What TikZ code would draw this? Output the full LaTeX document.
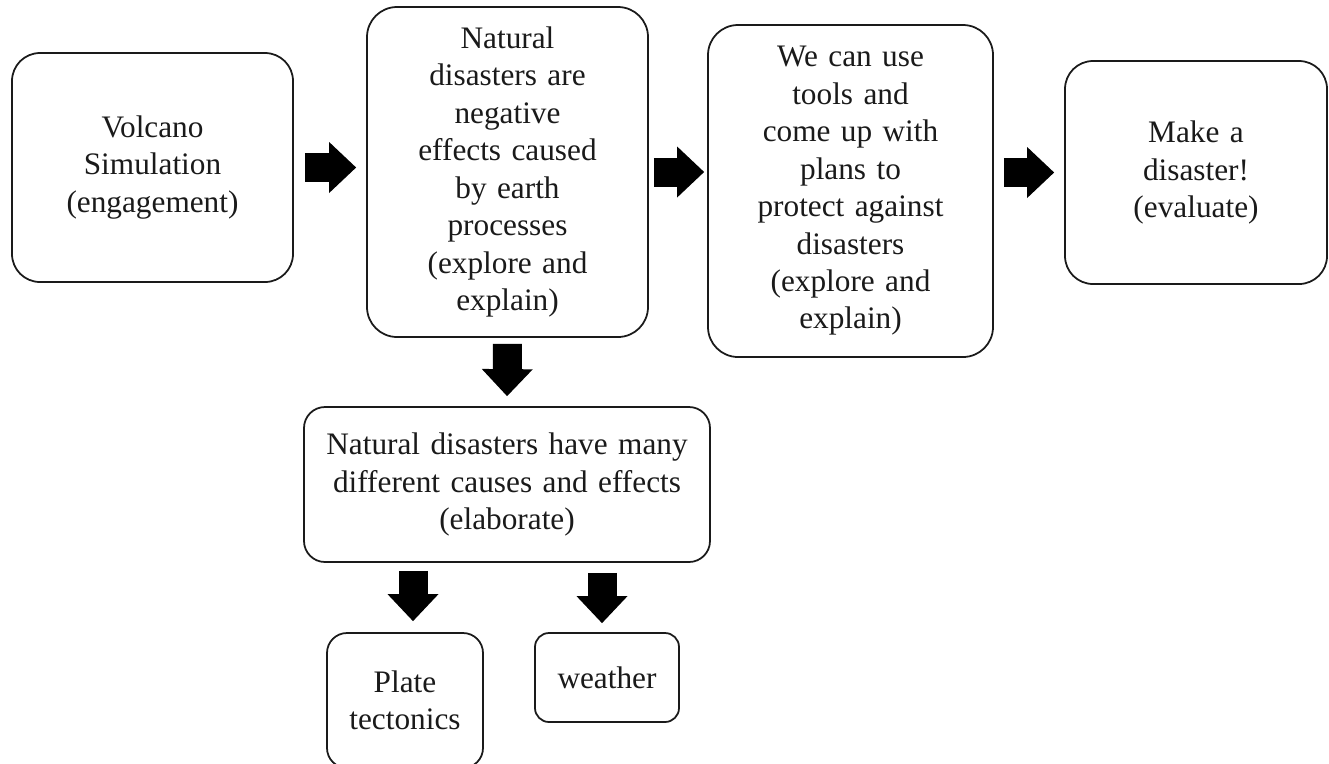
\documentclass[tikz,border=0pt]{standalone}
\usepackage{fontspec}
\setmainfont{Liberation Serif}
\usepackage{tikz}
\usetikzlibrary{arrows.meta,positioning,calc}
\definecolor{ink}{HTML}{1A1A1A}
\tikzset{
  stage/.style={draw=ink,fill=white,line width=1pt,rounded corners=0.6cm,
                align=center,inner sep=0pt,text=ink,
                font=\fontsize{17.8pt}{21.3pt}\selectfont},
  blockarr/.style={-{Triangle[length=0.54cm,width=1.02cm,line width=0pt]},
                   line width=0.58cm,draw=black}
}
\begin{document}
\begin{tikzpicture}[x=1cm,y=1cm]
    \clip (0,0) rectangle (26.58,-15.26);
    \fill[white] (0,0) rectangle (26.58,-15.26);

    % top row
    \node[stage,text width=5.62cm,minimum height=4.58cm,rounded corners=0.56cm]
      (volc) at (3.05,-3.35)
      {Volcano\\Simulation\\(engagement)};
    \node[stage,text width=5.62cm,minimum height=6.60cm] (neg) at (10.15,-3.44)
      {Natural\\disasters are\\negative\\effects caused\\by earth\\processes\\(explore and\\explain)};
    \node[stage,text width=5.70cm,minimum height=6.64cm] (tools) at (17.01,-3.82)
      {We can use\\tools and\\come up with\\plans to\\protect against\\disasters\\(explore and\\explain)};
    \node[stage,text width=5.24cm,minimum height=4.46cm,rounded corners=0.56cm]
      (make) at (23.92,-3.45)
      {Make a\\disaster!\\(evaluate)};
    \draw[blockarr,shorten <=0.22cm,shorten >=0.2cm] (volc.east) -- (volc.east -| neg.west);
    \draw[blockarr,shorten <=0.1cm,shorten >=0.06cm] (neg.east) -- (neg.east -| tools.west);
    \draw[blockarr,shorten <=0.2cm,shorten >=0.2cm] (make.west -| tools.east) -- (make.west);

    % lower part
    \node[stage,text width=8.12cm,minimum height=3.10cm,rounded corners=0.42cm]
      (causes) at (10.14,-9.69)
      {Natural disasters have many\\different causes and effects\\(elaborate)};
    \node[stage,text width=3.12cm,minimum height=2.70cm,rounded corners=0.4cm]
      (plate) at (8.10,-14.01)
      {Plate\\tectonics};
    \node[stage,text width=2.88cm,minimum height=1.78cm,rounded corners=0.28cm]
      (weather) at (12.14,-13.55)
      {weather};
    \draw[blockarr,shorten <=0.12cm,shorten >=0.2cm] (neg.south) -- (causes.north);
    \draw[blockarr,shorten <=0.16cm,shorten >=0.22cm]
      ([xshift=0.16cm]causes.south -| plate.north) -- ([xshift=0.16cm]plate.north);
    \draw[blockarr,shorten <=0.2cm,shorten >=0.18cm]
      ([xshift=-0.1cm]causes.south -| weather.north) -- ([xshift=-0.1cm]weather.north);
\end{tikzpicture}
\end{document}
